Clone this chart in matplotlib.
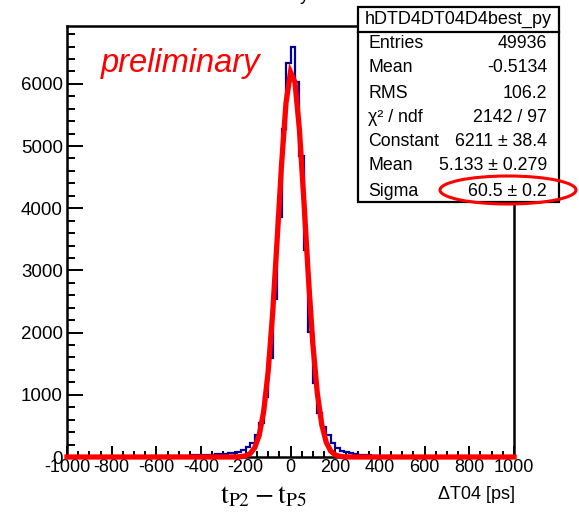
import numpy as np
import matplotlib
matplotlib.use("Agg")
import matplotlib.pyplot as plt
from matplotlib.patches import Rectangle, Ellipse
from matplotlib.lines import Line2D
from matplotlib.ticker import MultipleLocator

plt.rcParams['font.family'] = ['Liberation Sans', 'DejaVu Sans']

# ---- data ----
bin_lo, bin_hi, n_bins = -1000, 1000, 100
counts = [
    0, 1, 0, 1, 1, 2, 1, 2, 2, 3,            # -1000 .. -800
    3, 3, 4, 4, 5, 5, 6, 7, 8, 9,            # -800 .. -600
    10, 11, 13, 14, 16, 18, 20, 22, 25, 28,  # -600 .. -400
    32, 35, 38, 42, 46,                      # -400 .. -300
    52, 58, 66, 80, 105,                     # -300 .. -200
    166, 225, 353, 545, 968, 1584, 2547, 3857, 5276, 6330,   # -200 .. 0
    6590, 6024, 4847, 3323, 2011, 1183, 706, 486, 353, 225,  # 0 .. 200
    144, 100, 80, 62, 50, 40, 32, 25, 20, 16,                # 200 .. 400
    13, 11, 9, 8, 7, 6, 5, 5, 4, 4,                          # 400 .. 600
    3, 3, 3, 2, 2, 2, 2, 1, 1, 1,                            # 600 .. 800
    1, 1, 1, 0, 1, 0, 0, 1, 0, 0,                            # 800 .. 1000
]
fit_constant = 6211.0
fit_mean = 5.133
fit_sigma = 60.5

hist_name = "hDTD4DT04D4best_py"
stat_labels = ["Entries", "Mean", "RMS", "\u03c7\u00b2 / ndf", "Constant", "Mean", "Sigma"]
stat_values = ["49936", "-0.5134", "106.2", "2142 / 97",
               "6211 \u00b1 38.4", "5.133 \u00b1 0.279", "60.5 \u00b1 0.2"]

x_ticks = [-1000, -800, -600, -400, -200, 0, 200, 400, 600, 800, 1000]
x_tick_labels = ["-1000", "-800", "-600", "-400", "-200", "0", "200", "400", "600", "800", "1000"]
y_ticks = [0, 1000, 2000, 3000, 4000, 5000, 6000]
y_tick_labels = ["0", "1000", "2000", "3000", "4000", "5000", "6000"]

# ---- figure ----
W, H = 579, 512
fig = plt.figure(figsize=(W / 100, H / 100), dpi=100)

def fx(px):
    return px / W

def fy(py):
    return 1 - py / H

ax_l, ax_r, ax_t, ax_b = 67, 514, 26, 457
ax = fig.add_axes([fx(ax_l), fy(ax_b), (ax_r - ax_l) / W, (ax_b - ax_t) / H])

edges = np.linspace(bin_lo, bin_hi, n_bins + 1)
ax.stairs(counts, edges, color='#000099', lw=1.6, zorder=3, clip_on=False)

xf = np.linspace(bin_lo, bin_hi, 101)
yf = fit_constant * np.exp(-0.5 * ((xf - fit_mean) / fit_sigma) ** 2)
ax.plot(xf, yf, color='red', lw=3.8, zorder=4, clip_on=False, solid_joinstyle='miter')

ax.set_xlim(bin_lo, bin_hi)
ax.set_ylim(0, 6930)

ax.set_xticks(x_ticks)
ax.set_xticklabels(x_tick_labels, fontsize=13)
ax.set_yticks(y_ticks)
ax.set_yticklabels(y_tick_labels, fontsize=13.5)
ax.xaxis.set_minor_locator(MultipleLocator(50))
ax.yaxis.set_minor_locator(MultipleLocator(200))
ax.tick_params(axis='x', which='major', direction='in', length=8, width=1.4, pad=1.5)
ax.tick_params(axis='x', which='minor', direction='in', length=4, width=1.4)
ax.tick_params(axis='y', which='major', direction='in', length=11.5, width=1.4, pad=3)
ax.tick_params(axis='y', which='minor', direction='in', length=5.8, width=1.4)
for s in ax.spines.values():
    s.set_linewidth(1.8)

# preliminary
fig.text(fx(101), fy(72), "preliminary", color='red', fontsize=23.5,
         style='italic', ha='left', va='baseline')

# axis title
fig.text(fx(515), fy(499), "\u0394T04 [ps]", fontsize=13, ha='right', va='baseline')

# big label
fig.text(fx(263), fy(503), r"$\mathrm{t_{P2} - t_{P5}}$", fontsize=20,
         ha='center', va='baseline', math_fontfamily='stix')

# cut-off title glyph at top (only the descender is visible)
fig.text(fx(300), fy(-0.5), "y", fontsize=13, ha='left', va='baseline')

# stat box
bl, br, bt, bb = 358, 559, 7, 202
fig.patches.append(Rectangle((fx(bl), fy(bb)), (br - bl) / W, (bb - bt) / H,
                             transform=fig.transFigure, facecolor='white',
                             edgecolor='black', lw=1.6, zorder=5))
sep = 32
fig.lines.append(Line2D([fx(bl), fx(br)], [fy(sep), fy(sep)], transform=fig.transFigure,
                        color='black', lw=1.6, zorder=6))
fig.text(fx((bl + br) / 2), fy((bt + sep) / 2), hist_name, fontsize=13,
         ha='center', va='center', zorder=7)
row_y = [43, 68, 93, 117, 142, 166, 191]
for lab, val, ry in zip(stat_labels, stat_values, row_y):
    fig.text(fx(368), fy(ry), lab, fontsize=12.8, ha='left', va='center', zorder=7)
    fig.text(fx(547), fy(ry), val, fontsize=12.8, ha='right', va='center', zorder=7)

# red ellipse
fig.patches.append(Ellipse((fx(508), fy(190)), 136 / W, 28 / H, transform=fig.transFigure,
                           facecolor='none', edgecolor='red', lw=2.2, zorder=8))

fig.savefig("out.png", dpi=100)
